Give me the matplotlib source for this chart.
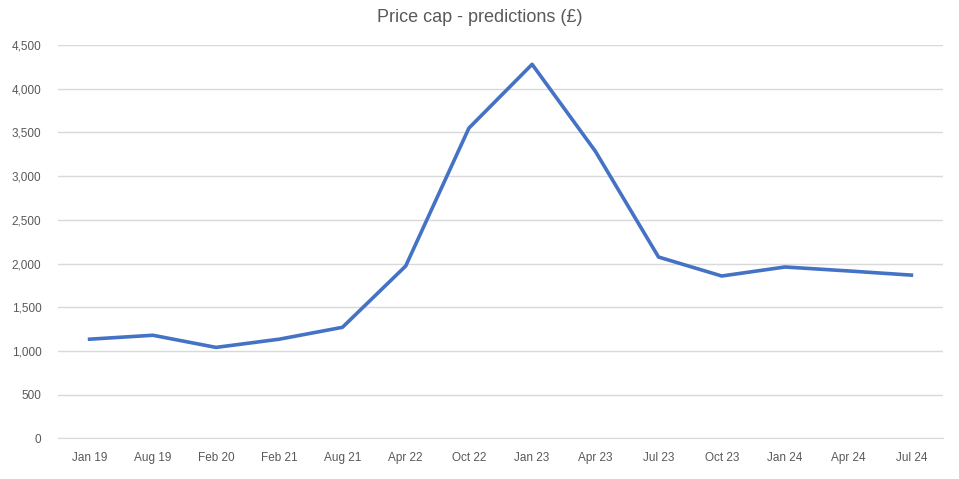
import matplotlib
matplotlib.use("Agg")
import matplotlib.pyplot as plt
from matplotlib.ticker import FuncFormatter

months = ["Jan 19", "Aug 19", "Feb 20", "Feb 21", "Aug 21", "Apr 22", "Oct 22",
          "Jan 23", "Apr 23", "Jul 23", "Oct 23", "Jan 24", "Apr 24", "Jul 24"]
price_cap = [1134, 1179, 1040, 1134, 1270, 1971, 3549,
             4279, 3285, 2074, 1857, 1960, 1915, 1867]

plt.rcParams['font.family'] = ['Liberation Sans', 'DejaVu Sans']

fig = plt.figure(figsize=(9.59, 4.79), dpi=100)
ax = fig.add_axes([58 / 959, 1 - 438.3 / 479, 885 / 959, (438.3 - 45) / 479])

x = range(len(months))
ax.plot(x, price_cap, color='#4472C4', linewidth=2.6, solid_joinstyle='round')

ax.set_xlim(-0.5, len(months) - 0.5)
ax.set_ylim(0, 4500)
ax.set_yticks(range(0, 4501, 500))
ax.yaxis.set_major_formatter(FuncFormatter(lambda v, p: f"{int(v):,}"))
ax.set_xticks(list(x))
ax.set_xticklabels(months)

ax.grid(axis='y', color='#D9D9D9', linewidth=1)
ax.set_axisbelow(True)
for s in ['top', 'right', 'left']:
    ax.spines[s].set_visible(False)
ax.spines['bottom'].set_color('#D9D9D9')
ax.tick_params(axis='both', length=0, colors='#595959', labelsize=8.5)
ax.tick_params(axis='x', pad=10)
ax.tick_params(axis='y', pad=12)

fig.text(0.5, 1 - 17 / 479, "Price cap - predictions (£)", ha='center', va='center',
         fontsize=13, color='#595959')

fig.savefig("out.png", dpi=100)
